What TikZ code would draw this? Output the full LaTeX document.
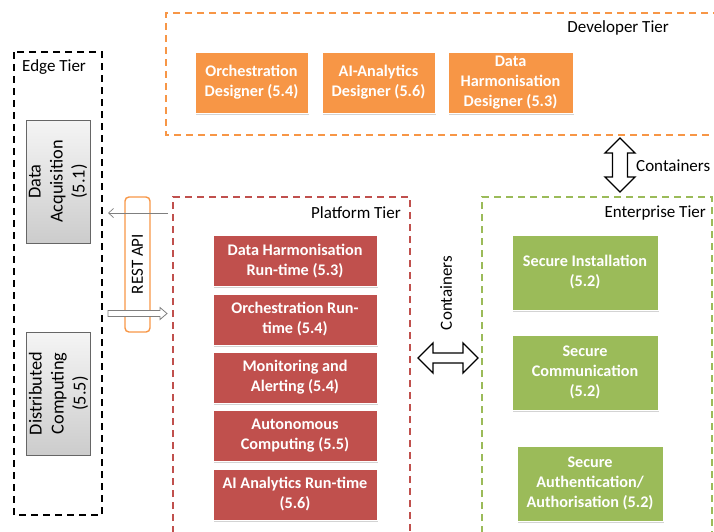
\documentclass[tikz,border=0pt]{standalone}
\usepackage{fontspec}
\setmainfont{Carlito}
\usetikzlibrary{shadows,arrows.meta}
\definecolor{devorange}{HTML}{F79646}
\definecolor{platred}{HTML}{C0504D}
\definecolor{entgreen}{HTML}{9BBB59}
\definecolor{edgegray}{HTML}{7F7F7F}
\tikzset{
  tierframe/.style={line width=1.6pt, dash pattern=on 7pt off 5pt},
  tierlabel/.style={font=\fontsize{17}{20}\selectfont, inner sep=0pt},
  compbox/.style={draw=white, line width=0.8pt, text=white, align=center,
    font=\bfseries\fontsize{16.2}{20}\selectfont, inner sep=2pt,
    drop shadow={opacity=0.35, shadow xshift=1pt, shadow yshift=-1.5pt}},
  devbox/.style={compbox, fill=devorange, minimum height=61pt},
  platbox/.style={compbox, fill=platred, minimum width=164pt, minimum height=51pt},
  entbox/.style={compbox, fill=entgreen, minimum width=146pt, minimum height=75pt},
  edgebox/.style={draw=edgegray!80!black, line width=0.8pt, top color=gray!8, bottom color=gray!40,
    align=center, font=\fontsize{18.3}{22}\selectfont, rotate=90,
    minimum width=123pt, minimum height=64pt, inner sep=1pt},
  fatarrow/.style={draw=black, fill=white, line width=1.3pt, line join=miter},
}
\begin{document}
\begin{tikzpicture}[x=1pt, y=-1pt]
\useasboundingbox (0,0) rectangle (714,531);
% tier frames
\draw[tierframe, draw=devorange] (720,13) -- (166,13) -- (166,135) -- (720,135);
\draw[tierframe, draw=black] (14,52) rectangle (102,515);
\draw[tierframe, draw=platred] (173,545) -- (173,197) -- (410,197) -- (410,545);
\draw[tierframe, draw=entgreen] (482,545) -- (482,197) -- (712,197) -- (712,545);
% tier labels
\node[tierlabel, anchor=west] (edgelbl) at (22,67) {Edge Tier};
\node[tierlabel, anchor=east] (devlbl) at (669,28) {Developer Tier};
\node[tierlabel, anchor=east] (platlbl) at (401,213) {Platform Tier};
\node[tierlabel, anchor=east] (entlbl) at (706,213) {Enterprise Tier};
% developer tier
\node[devbox, minimum width=113pt] (od) at (251.5,82.5) {Orchestration\\Designer (5.4)};
\node[devbox, minimum width=113pt] (ad) at (378.5,82.5) {AI-Analytics\\Designer (5.6)};
\node[devbox, minimum width=125pt] (dd) at (510.5,82.5) {Data\\Harmonisation\\Designer (5.3)};
% platform tier
\node[platbox] (p1) at (295,261) {Data Harmonisation\\Run-time (5.3)};
\node[platbox] (p2) at (295,319.5) {Orchestration Run-\\time (5.4)};
\node[platbox] (p3) at (295,377.5) {Monitoring and\\Alerting (5.4)};
\node[platbox] (p4) at (295,436) {Autonomous\\Computing (5.5)};
\node[platbox] (p5) at (295,494.5) {AI Analytics Run-time\\(5.6)};
% enterprise tier
\node[entbox] (e1) at (585,272.5) {Secure Installation\\(5.2)};
\node[entbox] (e2) at (585,372.5) {Secure\\Communication\\(5.2)};
\node[entbox] (e3) at (590,483.5) {Secure\\Authentication/\\Authorisation (5.2)};
% edge tier
\node[edgebox] (da) at (58,181.5) {Data\\Acquisition\\(5.1)};
\node[edgebox] (dc) at (58.5,393.5) {Distributed\\Computing\\(5.5)};
% REST API
\draw[devorange, line width=1.4pt, rounded corners=4pt] (125,197) rectangle (150,332);
\node[rotate=90, font=\fontsize{17}{20}\selectfont, inner sep=0pt] (rest) at (137.5,264) {REST API};
\coordinate (restin) at (168,213);
\coordinate (restout) at (108,213);
\draw[edgegray, line width=0.7pt, -{Straight Barb[length=5pt,width=9pt]}] (restin) -- (restout);
\draw[edgegray, fill=white, line width=0.8pt] (108,310.5) -- (160,310.5) -- (160,307.5) -- (167,313.5) -- (160,319.5) -- (160,316.5) -- (108,316.5) -- cycle;
% containers arrows
\draw[fatarrow] (418,358) -- (433,343) -- (433,353) -- (463,353) -- (463,343) -- (478,358) -- (463,373) -- (463,363) -- (433,363) -- (433,373) -- cycle;
\node[rotate=90, font=\fontsize{17}{20}\selectfont, inner sep=0pt] (cont1) at (446,293) {Containers};
\draw[fatarrow] (620,138) -- (635,153) -- (627.5,153) -- (627.5,177) -- (635,177) -- (620,192) -- (605,177) -- (612.5,177) -- (612.5,153) -- (605,153) -- cycle;
\node[anchor=west, font=\fontsize{17}{20}\selectfont, inner sep=0pt] (cont2) at (636,166) {Containers};
\end{tikzpicture}
\end{document}
